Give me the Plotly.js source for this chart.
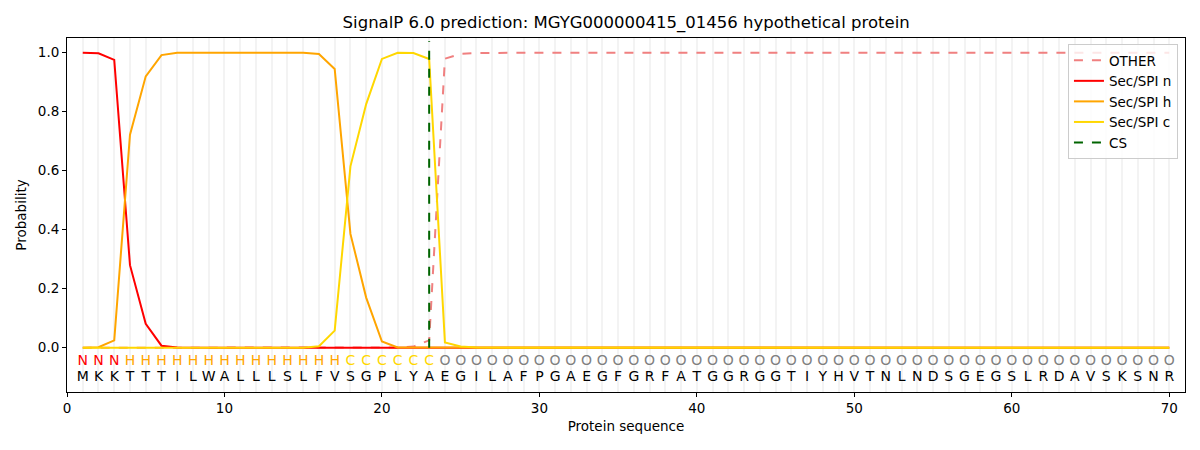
<!DOCTYPE html>
<html><head><meta charset="utf-8">
<script src="https://cdn.plot.ly/plotly-3.0.1.min.js"></script>
<style>body{margin:0;background:#fff}#c{width:1200px;height:450px}</style>
</head><body><div id="c"></div>
<script>
const residues = "MKKTTTILWALLLSLFVSGPLYAEGILAFPGAEGFGRFATGGRGGTIYHVTNLNDSGEGSLRDAVSKSNR".split("");
const regionLabels = "NNNHHHHHHHHHHHHHHCCCCCCOOOOOOOOOOOOOOOOOOOOOOOOOOOOOOOOOOOOOOOOOOOOOOO".split("");
const positions = residues.map((_, i) => i + 1);
const cleavageSite = 23;

const secN = [1.0,0.998,0.976,0.28,0.081,0.007,0.001,0,0,0,0,0,0,0,0,0.001,0.001,0.001,0.001,0.001,0.001,0.001,0.001,0];
const secH = [0,0.002,0.025,0.722,0.92,0.992,1.0,1.0,1.0,1.0,1.0,1.0,1.0,1.0,1.0,0.996,0.945,0.386,0.17,0.021,0.001,0.001,0.001,0];
const secC = [0,0,0,0,0,0,0,0,0,0,0,0,0,0,0,0.005,0.058,0.615,0.826,0.979,1.0,0.999,0.979,0.018,0.004,0.001];
const other = [0,0,0,0,0,0,0,0,0,0,0,0,0,0,0,0,0,0,0,0,0.001,0.004,0.025,0.98,0.996,0.999];

function pad(arr, fill){ const out = arr.slice(); while(out.length < positions.length) out.push(fill); return out; }

const labelColor = {N:'#ff0000', H:'#ffa500', C:'#ffd700', O:'#808080'};

const traces = [
  {x:positions, y:pad(other, 1.0), mode:'lines', name:'OTHER', line:{color:'#f08080', width:2, dash:'dash'}},
  {x:positions, y:pad(secN, 0), mode:'lines', name:'Sec/SPI n', line:{color:'#ff0000', width:2}},
  {x:positions, y:pad(secH, 0), mode:'lines', name:'Sec/SPI h', line:{color:'#ffa500', width:2}},
  {x:positions, y:pad(secC, 0), mode:'lines', name:'Sec/SPI c', line:{color:'#ffd700', width:2}},
  {x:[cleavageSite, cleavageSite], y:[0, 1.04], mode:'lines', name:'CS', line:{color:'#006400', width:2, dash:'dash'}},
  {x:positions, y:positions.map(()=>-0.047), mode:'text', text:regionLabels, showlegend:false, hoverinfo:'skip',
   textfont:{family:'DejaVu Sans', size:14, color:regionLabels.map(l=>labelColor[l])}},
  {x:positions, y:positions.map(()=>-0.1), mode:'text', text:residues, showlegend:false, hoverinfo:'skip',
   textfont:{family:'DejaVu Sans', size:14, color:'#000000'}}
];

const layout = {
  width:1200, height:450,
  margin:{l:67, r:15, t:38, b:58},
  paper_bgcolor:'#fff', plot_bgcolor:'#fff',
  font:{family:'DejaVu Sans', size:13.5, color:'#000'},
  title:{text:'SignalP 6.0 prediction: MGYG000000415_01456 hypothetical protein', x:0.5218, xanchor:'center', y:0.95, yanchor:'middle', font:{size:16.5}},
  xaxis:{range:[0,71], tickmode:'array', tickvals:[0,10,20,30,40,50,60,70], ticks:'outside', ticklen:4, tickcolor:'#000',
    showline:true, linecolor:'#000', linewidth:1, mirror:true, zeroline:false,
    showgrid:false,
    minor:{tickmode:'array', tickvals:positions, showgrid:true, gridcolor:'#f3f3f3', gridwidth:2, ticks:''},
    title:{text:'Protein sequence', font:{size:13.5}, standoff:6}, tickfont:{size:13.5}},
  yaxis:{range:[-0.15,1.05], tickmode:'array', tickvals:[0,0.2,0.4,0.6,0.8,1.0], ticktext:['0.0','0.2','0.4','0.6','0.8','1.0'],
    ticks:'outside', ticklen:4, tickcolor:'#000', showline:true, linecolor:'#000', linewidth:1, mirror:true,
    showgrid:false, zeroline:false, title:{text:'Probability', font:{size:13.5}, standoff:8}, tickfont:{size:13.5}},
  legend:{x:0.9937, xanchor:'right', y:0.983, yanchor:'top', bgcolor:'rgba(255,255,255,0.8)', bordercolor:'#cccccc', borderwidth:1,
    font:{size:13.5}, tracegroupgap:0}
};
Plotly.newPlot('c', traces, layout, {displayModeBar:false, staticPlot:true});
</script></body></html>
